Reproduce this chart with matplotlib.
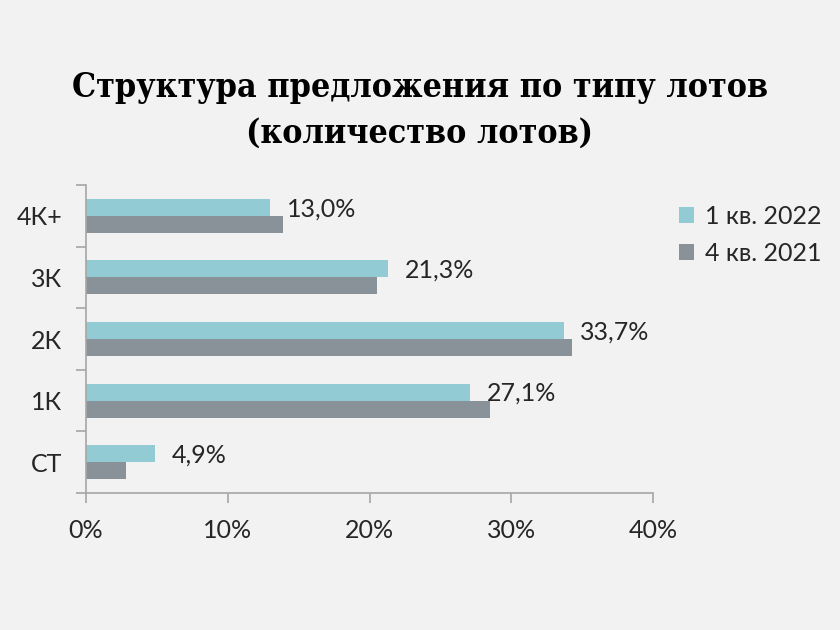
import numpy as np
from matplotlib import pyplot as plt
from matplotlib.ticker import FixedLocator

# data
categories = ["СТ", "1К", "2К", "3К", "4К+"]
q1_2022 = [4.9, 27.1, 33.7, 21.3, 13.0]
q4_2021 = [2.8, 28.5, 34.3, 20.5, 13.9]
series_names = ["1 кв. 2022", "4 кв. 2021"]
xticks = [0, 10, 20, 30, 40]

bg = "#f2f2f2"
c_cyan = "#92cbd3"
c_gray = "#8a9299"
axis_col = "#a6a6a6"
txt_col = "#262626"

plt.rcParams['font.family'] = ['Lato', 'DejaVu Sans']

fig = plt.figure(figsize=(8.4, 6.3), dpi=100, facecolor=bg)
ax = fig.add_axes([0.1024, 0.2175, 0.675, 0.4888], facecolor=bg)

y = np.arange(len(categories))
h = 0.276
ax.barh(y + h / 2, q1_2022, height=h, color=c_cyan, label=series_names[0])
ax.barh(y - h / 2, q4_2021, height=h, color=c_gray, label=series_names[1])

# value labels next to the 2022 bars
for yi, v in zip(y, q1_2022):
    ax.annotate("{:.1f}%".format(v).replace(".", ","), (v, yi + h / 2),
                xytext=(12, -1), textcoords="offset points",
                ha="left", va="center", fontsize=18, color=txt_col)

ax.set_xlim(0, 40)
ax.set_ylim(-0.5, len(categories) - 0.5)
ax.set_xticks(xticks)
ax.set_xticklabels(["{}%".format(t) for t in xticks])
ax.set_yticks(y)
ax.set_yticklabels(categories)
ax.yaxis.set_minor_locator(FixedLocator(np.arange(-0.5, len(categories), 1)))

for s in ["top", "right"]:
    ax.spines[s].set_visible(False)
for s in ["left", "bottom"]:
    ax.spines[s].set_color(axis_col)
    ax.spines[s].set_linewidth(1.2)

ax.tick_params(axis="y", which="major", length=0, pad=17, labelsize=18, labelcolor=txt_col)
ax.tick_params(axis="y", which="minor", length=7, width=1.2, color=axis_col)
ax.tick_params(axis="x", length=7, width=1.2, color=axis_col, pad=12, labelsize=18, labelcolor=txt_col)

leg = fig.legend(loc="upper left", bbox_to_anchor=(0.781, 0.71), frameon=False,
                 fontsize=18, handlelength=0.6, handleheight=0.6, handletextpad=0.45,
                 labelspacing=0.55, labelcolor=txt_col)

fig.text(0.5, 0.825, "Структура предложения по типу лотов\n(количество лотов)",
         ha="center", va="center", fontsize=24.3, fontweight="bold",
         fontstretch="condensed", family=["DejaVu Serif"], linespacing=1.5,
         color="black")

fig.savefig("out.png", dpi=100, facecolor=bg)
